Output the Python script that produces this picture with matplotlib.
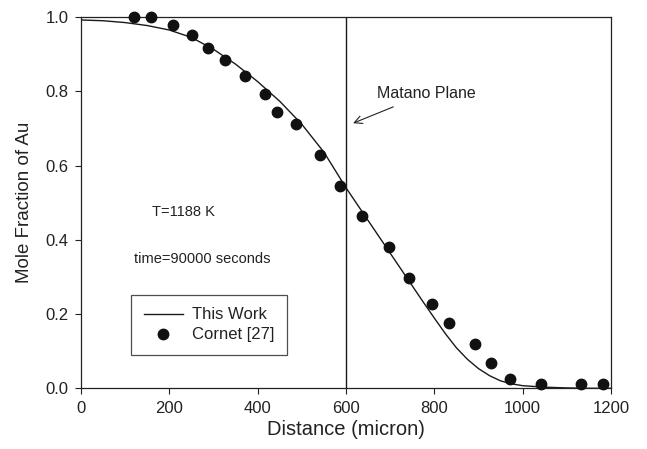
import matplotlib
matplotlib.use("Agg")
import matplotlib.pyplot as plt

plt.rcParams["font.family"] = ["Liberation Sans", "DejaVu Sans"]

# Calculated profile (This Work)
model_x = [0, 50, 100, 150, 200, 250, 300, 350, 400, 450, 500, 550, 600,
           650, 700, 750, 775, 800, 825, 850, 875, 900, 925, 950, 975,
           1000, 1050, 1100, 1150, 1200]
model_y = [0.992, 0.990, 0.985, 0.977, 0.965, 0.945, 0.913, 0.873, 0.826,
           0.773, 0.711, 0.636, 0.540, 0.452, 0.364, 0.276, 0.232, 0.189,
           0.147, 0.109, 0.078, 0.053, 0.034, 0.020, 0.012, 0.007, 0.003,
           0.001, 0.0, 0.0]

# Experimental data, Cornet [27]
exp_x = [120, 158, 208, 251, 287, 326, 371, 417, 444, 487, 541, 586,
         636, 697, 742, 795, 833, 892, 928, 972, 1041, 1131, 1182]
exp_y = [1.0, 1.0, 0.978, 0.951, 0.916, 0.884, 0.841, 0.792, 0.744, 0.712,
         0.628, 0.544, 0.464, 0.380, 0.296, 0.226, 0.175, 0.119, 0.067,
         0.024, 0.011, 0.011, 0.011]

matano_x = 600

fig = plt.figure(figsize=(6.47, 4.49), dpi=100)
ax = fig.add_axes([0.1252, 0.1352, 0.8192, 0.8269])

ax.plot(model_x, model_y, color="#1a1a1a", linewidth=1.0, label="This Work")
ax.plot(exp_x, exp_y, linestyle="none", marker="o", markersize=7.5,
        color="#111111", label="Cornet [27]", clip_on=False, zorder=3)
ax.axvline(matano_x, color="#1a1a1a", linewidth=1.0)

ax.text(783, 0.795, "Matano Plane", fontsize=11.5, color="#222222",
        ha="center", va="center")
ax.annotate("", xy=(616, 0.714), xytext=(707, 0.758),
            arrowprops=dict(arrowstyle="->", color="#222222", lw=0.8,
                            shrinkA=0, shrinkB=0, mutation_scale=14))
ax.text(233, 0.475, "T=1188 K", fontsize=10.5, color="#222222",
        ha="center", va="center")
ax.text(274, 0.348, "time=90000 seconds", fontsize=10.5, color="#222222",
        ha="center", va="center")

ax.set_xlim(0, 1200)
ax.set_ylim(0, 1.0)
ax.set_xticks([0, 200, 400, 600, 800, 1000, 1200])
ax.set_yticks([0.0, 0.2, 0.4, 0.6, 0.8, 1.0])
ax.set_yticklabels(["0.0", "0.2", "0.4", "0.6", "0.8", "1.0"])
ax.tick_params(direction="out", length=4, width=0.8, labelsize=12,
               colors="#222222", pad=5, top=False, right=False)
for side in ax.spines.values():
    side.set_linewidth(0.9)
    side.set_color("#222222")

ax.set_xlabel("Distance (micron)", fontsize=14.5, color="#222222", labelpad=3)
ax.set_ylabel("Mole Fraction of Au", fontsize=13.5, color="#222222", labelpad=9)

leg = ax.legend(loc="lower left", bbox_to_anchor=(0.095, 0.09), fontsize=12,
                frameon=True, fancybox=False, borderaxespad=0,
                handlelength=2.35, handletextpad=0.55, labelspacing=0.3,
                borderpad=0.75)
leg.get_frame().set_edgecolor("#222222")
leg.get_frame().set_linewidth(0.9)
for t in leg.get_texts():
    t.set_color("#222222")

fig.savefig("out.png", dpi=100)
